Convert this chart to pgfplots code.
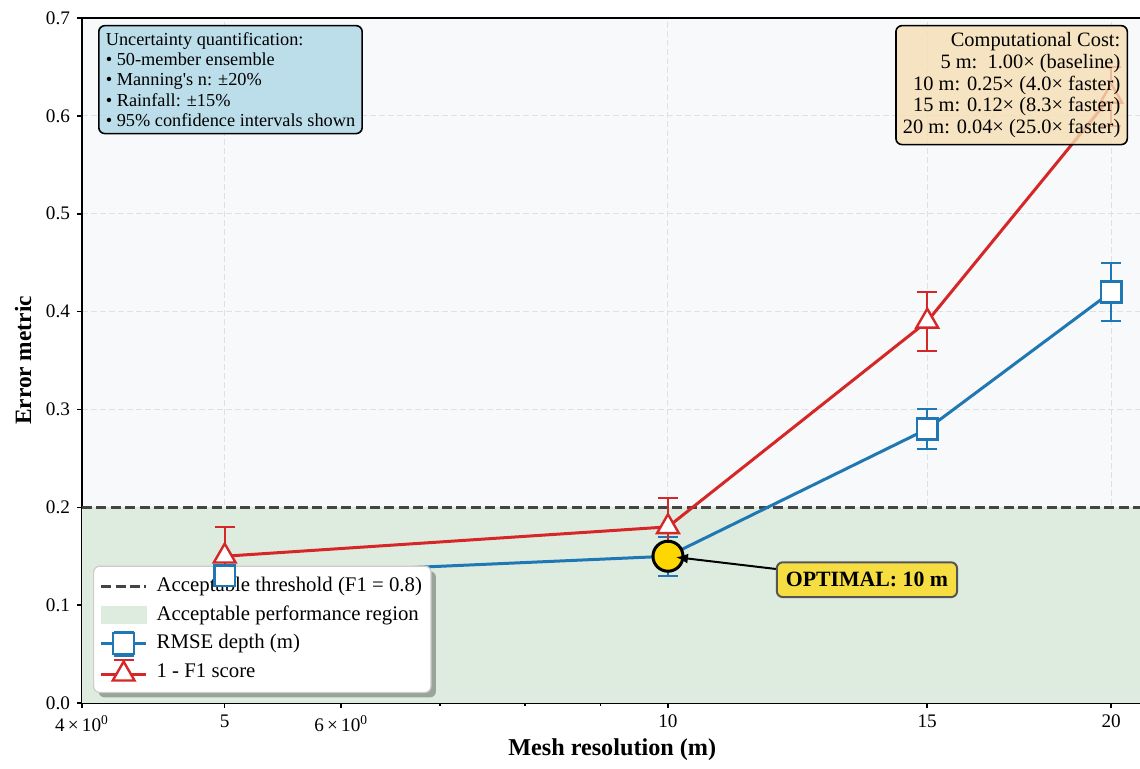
\documentclass[border=0pt]{standalone}
\usepackage{fontspec}
\setmainfont{Liberation Serif}
\usepackage{pgfplots}
\pgfplotsset{compat=1.18}
\usepackage{pgfplotstable}
\usetikzlibrary{calc,shadows,arrows.meta}

\makeatletter
\tikzset{nopreactions/.code={\let\tikz@preactions\pgfutil@empty}}
\makeatother

\definecolor{rmseblue}{RGB}{31,119,180}
\definecolor{f1red}{RGB}{214,39,40}
\definecolor{axbg}{RGB}{248,249,250}
\definecolor{okgreen}{RGB}{222,236,223}
\definecolor{thrgray}{RGB}{68,68,68}
\definecolor{gridgray}{RGB}{222,224,228}
\definecolor{goldc}{RGB}{255,215,0}
\definecolor{lightbluec}{RGB}{173,216,230}
\definecolor{wheatc}{RGB}{245,222,179}
\definecolor{boxedge}{RGB}{85,85,85}

\pgfplotstableread{
x y err
5 0.13 0.01
10 0.15 0.02
15 0.28 0.02
20 0.42 0.03
}\rmsetable
\pgfplotstableread{
x y err
5 0.15 0.03
10 0.18 0.03
15 0.39 0.03
20 0.62 0.03
}\fonetable

\begin{document}
\begin{tikzpicture}
\begin{axis}[name=ax,
  scale only axis, width=530.2pt, height=342.5pt,
  xmode=log, xmin=4, xmax=21, ymin=0, ymax=0.7,
  axis background/.style={fill=axbg},
  axis line style={line width=0.9pt, black},
  tick pos=left, tick align=outside,
  major tick length=2.5pt, minor tick length=1.5pt,
  every tick/.style={black, line width=0.8pt},
  xtick={5,10,15,20}, xticklabels={5,10,15,20},
  extra x ticks={4,6},
  extra x tick labels={4\,×\,10\textsuperscript{0},6\,×\,10\textsuperscript{0}},
  extra x tick style={grid=none},
  minor xtick={7,8,9},
  ytick={0,0.1,0.2,0.3,0.4,0.5,0.6,0.7},
  yticklabels={0.0,0.1,0.2,0.3,0.4,0.5,0.6,0.7},
  ticklabel style={font=\fontsize{9.6}{11}\selectfont},
  grid=major,
  major grid style={gridgray, dash pattern=on 3pt off 1.5pt, line width=0.5pt},
  xlabel={Mesh resolution (m)}, ylabel={Error metric},
  xlabel style={font=\fontsize{12.1}{14}\selectfont\bfseries, at={(axis description cs:0.5,-0.0686)}, anchor=center},
  ylabel style={font=\fontsize{11.7}{14}\selectfont\bfseries, at={(axis description cs:-0.0555,0.5)}, anchor=center},
  legend cell align=left,
  legend style={at={(axis description cs:0.0104,0.0146)}, anchor=south west,
    fill=white, draw=gray!40, rounded corners=3pt, line width=0.6pt,
    font=\fontsize{10.4}{12}\selectfont, inner xsep=3pt, inner ysep=3.5pt,
    row sep=1.1pt, column sep=3pt,
    nodes={inner sep=1.5pt, text height=7.6pt, text depth=2.6pt},
    drop shadow={shadow xshift=2.5pt, shadow yshift=-2.5pt, fill=black, opacity=0.3}},
]
\addlegendimage{legend image code/.code={\draw[nopreactions, sharp corners, thrgray, line width=1.2pt, dash pattern=on 5pt off 2.2pt] (0pt,0pt) -- (22.5pt,0pt);}}
\addlegendentry{Acceptable threshold (F1 = 0.8)}
\addlegendimage{legend image code/.code={\fill[nopreactions, sharp corners, okgreen] (0pt,-4pt) rectangle (22.5pt,4pt);}}
\addlegendentry{Acceptable performance region}
\addlegendimage{legend image code/.code={
  \draw[nopreactions, sharp corners, rmseblue, line width=1.5pt] (0pt,0pt) -- (22.5pt,0pt);
  \draw[nopreactions, sharp corners, rmseblue, line width=1pt] (11.25pt,-6pt) -- (11.25pt,6pt) (6.25pt,6pt) -- (16.25pt,6pt) (6.25pt,-6pt) -- (16.25pt,-6pt);
  \draw[nopreactions, sharp corners, rmseblue, line width=1.2pt, fill=white] (6.05pt,-5.2pt) rectangle (16.45pt,5.2pt);}}
\addlegendentry{RMSE depth (m)}
\addlegendimage{legend image code/.code={
  \draw[nopreactions, sharp corners, f1red, line width=1.5pt] (0pt,-1pt) -- (22.5pt,-1pt);
  \draw[nopreactions, sharp corners, f1red, line width=1pt] (11.25pt,-1pt) -- (11.25pt,6pt) (6.25pt,6pt) -- (16.25pt,6pt);
  \draw[nopreactions, sharp corners, f1red, line width=1.2pt, fill=white] (11.25pt,5.3pt) -- (5.8pt,-4.15pt) -- (16.7pt,-4.15pt) -- cycle;}}
\addlegendentry{1 - F1 score}

\addplot[draw=none, fill=okgreen, forget plot] coordinates {(4,0) (4,0.2) (21,0.2) (21,0)};
\addplot[thrgray, line width=1.2pt, dash pattern=on 5pt off 2.2pt, forget plot] coordinates {(4,0.2) (21,0.2)};

\addplot[rmseblue, line width=1.5pt, forget plot,
  error bars/.cd, y dir=both, y explicit, error mark=-,
  error bar style={line width=1pt, rmseblue},
  error mark options={rotate=90, rmseblue, line width=1pt, mark size=5pt}]
  table[x=x, y=y, y error=err] {\rmsetable};
\addplot[f1red, line width=1.5pt, forget plot,
  error bars/.cd, y dir=both, y explicit, error mark=-,
  error bar style={line width=1pt, f1red},
  error mark options={rotate=90, f1red, line width=1pt, mark size=5pt}]
  table[x=x, y=y, y error=err] {\fonetable};
\end{axis}

\begin{axis}[scale only axis, width=530.2pt, height=342.5pt,
  xmode=log, xmin=4, xmax=21, ymin=0, ymax=0.7, hide axis, clip=false]
\addplot[rmseblue, only marks, mark=square*, mark size=5.2pt, mark options={fill=white, line width=1.2pt}] table[x=x, y=y] {\rmsetable};
\addplot[f1red, only marks, mark=triangle*, mark size=6.3pt, mark options={fill=white, line width=1.2pt}] table[x=x, y=y] {\fonetable};
\addplot[only marks, mark=*, mark size=7.5pt, mark options={fill=goldc, draw=black, line width=1.5pt}] coordinates {(10,0.15)};
\end{axis}

\begin{axis}[scale only axis, width=530.2pt, height=342.5pt,
  xmode=log, xmin=4, xmax=21, ymin=0, ymax=0.7, hide axis, clip=false]
\node[fill=goldc, fill opacity=0.7, text opacity=1, draw=boxedge, line width=1pt, rounded corners=3pt,
  font=\fontsize{10.9}{12}\selectfont\bfseries, inner xsep=4.5pt, inner ysep=5pt] (opt) at (axis cs:13.65,0.126) {OPTIMAL: 10 m};
\draw[line width=1pt, -{Latex[length=6pt,width=5pt]}, shorten >=4pt] (opt) -- (axis cs:10,0.15);

\node[anchor=north west, fill=lightbluec, fill opacity=0.8, text opacity=1, draw=black, line width=0.8pt,
  rounded corners=3pt, inner sep=3.5pt, align=left, font=\fontsize{9.15}{10.1}\selectfont]
  at (axis description cs:0.0151,0.99)
  {Uncertainty quantification:\\ • 50-member ensemble\\ • Manning\textquotesingle s n: ±20\%\\ • Rainfall: ±15\%\\ • 95\% confidence intervals shown};

\node[anchor=north east, fill=wheatc, fill opacity=0.8, text opacity=1, draw=black, line width=0.8pt,
  rounded corners=3pt, inner sep=3.5pt, align=right, font=\fontsize{10.2}{10.8}\selectfont]
  at (axis description cs:0.9865,0.99)
  {Computational Cost:\\ 5 m:\ \ 1.00× (baseline)\\ 10 m: 0.25× (4.0× faster)\\ 15 m: 0.12× (8.3× faster)\\ 20 m: 0.04× (25.0× faster)};
\end{axis}
\pgfresetboundingbox
\path (-41pt,-32.5pt) rectangle (529pt,351.5pt);
\end{tikzpicture}
\end{document}
